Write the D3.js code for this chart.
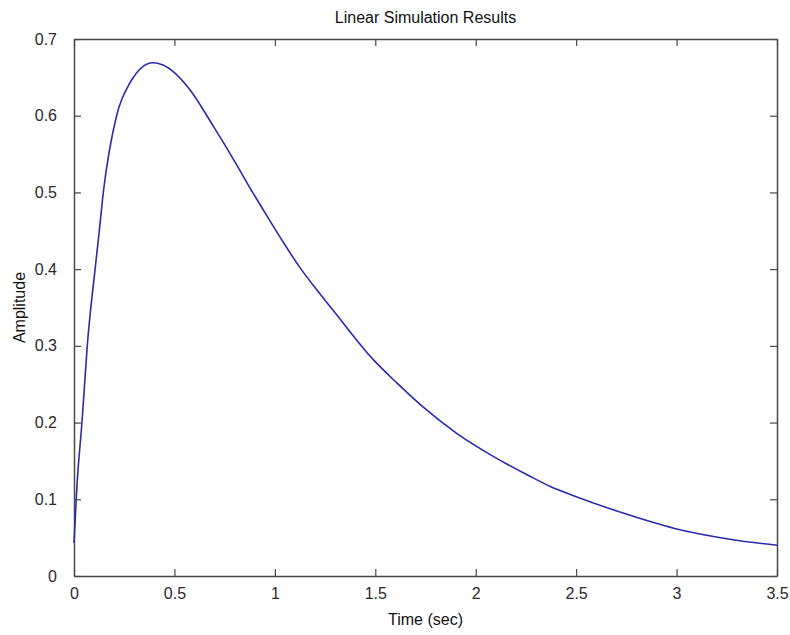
<!DOCTYPE html>
<html>
<head>
<meta charset="utf-8">
<script src="https://cdn.jsdelivr.net/npm/d3@7"></script>
<style>
  html, body { margin: 0; padding: 0; background: #fff; }
  svg { display: block; }
  text { font-family: "Liberation Sans", Arial, sans-serif; }
</style>
</head>
<body>
<svg id="chart" width="790" height="635"></svg>
<script>
// Data
const timeValues = [0.000, 0.013, 0.041, 0.066, 0.105, 0.124, 0.146, 0.212, 0.279, 0.393, 0.443,
  0.577, 0.692, 0.810, 0.876, 0.959, 1.042, 1.125, 1.233, 1.291, 1.490, 1.606, 1.739, 1.905,
  2.087, 2.270, 2.369, 2.494, 2.734, 2.990, 3.265, 3.500];
const amplitudeValues = [0.043, 0.110, 0.205, 0.300, 0.400, 0.445, 0.500, 0.600, 0.643, 0.669, 0.666,
  0.634, 0.587, 0.536, 0.506, 0.470, 0.435, 0.402, 0.365, 0.346, 0.282, 0.252, 0.220, 0.186,
  0.156, 0.130, 0.117, 0.104, 0.082, 0.062, 0.048, 0.040];
const xTicks = [0, 0.5, 1, 1.5, 2, 2.5, 3, 3.5];
const yTicks = [0, 0.1, 0.2, 0.3, 0.4, 0.5, 0.6, 0.7];
const titleText = "Linear Simulation Results";
const xLabelText = "Time (sec)";
const yLabelText = "Amplitude";

const svg = d3.select("#chart");
const margin = { left: 74, right: 13, top: 39, bottom: 59 };
const W = 790, H = 635;
const x = d3.scaleLinear().domain([0, 3.5]).range([margin.left, W - margin.right]);
const y = d3.scaleLinear().domain([0, 0.7]).range([H - margin.bottom, margin.top]);
const axisColor = "#4a4a4a";
const textColor = "#2a2a2a";
const fs = "16px";
const tickLen = 7;

const fmt = d => (d === 0 ? "0" : d3.format("")(d));

// Bottom axis
const gb = svg.append("g").attr("transform", `translate(0,${y(0)})`)
  .call(d3.axisBottom(x).tickValues(xTicks).tickFormat(fmt).tickSizeInner(-tickLen).tickSizeOuter(0).tickPadding(12));
// Top axis
const gt = svg.append("g").attr("transform", `translate(0,${y(0.7)})`)
  .call(d3.axisTop(x).tickValues(xTicks).tickFormat("").tickSizeInner(-tickLen).tickSizeOuter(0));
// Left axis
const gl = svg.append("g").attr("transform", `translate(${x(0)},0)`)
  .call(d3.axisLeft(y).tickValues(yTicks).tickFormat(fmt).tickSizeInner(-tickLen).tickSizeOuter(0).tickPadding(17));
// Right axis
const gr = svg.append("g").attr("transform", `translate(${x(3.5)},0)`)
  .call(d3.axisRight(y).tickValues(yTicks).tickFormat("").tickSizeInner(-tickLen).tickSizeOuter(0));

[gb, gt, gl, gr].forEach(g => {
  g.select(".domain").attr("stroke", axisColor).attr("stroke-width", 1.5);
  g.selectAll(".tick line").attr("stroke", axisColor).attr("stroke-width", 1.2);
  g.selectAll(".tick text").attr("fill", textColor).style("font-size", fs)
    .style("font-family", '"Liberation Sans", Arial, sans-serif');
});

// Curve
const pts = timeValues.map((t, i) => [t, amplitudeValues[i]]);
svg.append("path")
  .datum(pts)
  .attr("fill", "none")
  .attr("stroke", "#2b2bb0")
  .attr("stroke-width", 1.6)
  .attr("d", d3.line().x(d => x(d[0])).y(d => y(d[1])).curve(d3.curveMonotoneX));

// Title and labels
svg.append("text").attr("x", (x(0) + x(3.5)) / 2).attr("y", 23)
  .attr("text-anchor", "middle").attr("fill", "#111").style("font-size", fs).text(titleText);
svg.append("text").attr("x", (x(0) + x(3.5)) / 2).attr("y", 625)
  .attr("text-anchor", "middle").attr("fill", "#111").style("font-size", fs).text(xLabelText);
svg.append("text").attr("transform", `translate(25,${(y(0) + y(0.7)) / 2}) rotate(-90)`)
  .attr("text-anchor", "middle").attr("fill", "#111").style("font-size", fs).text(yLabelText);
</script>
</body>
</html>
